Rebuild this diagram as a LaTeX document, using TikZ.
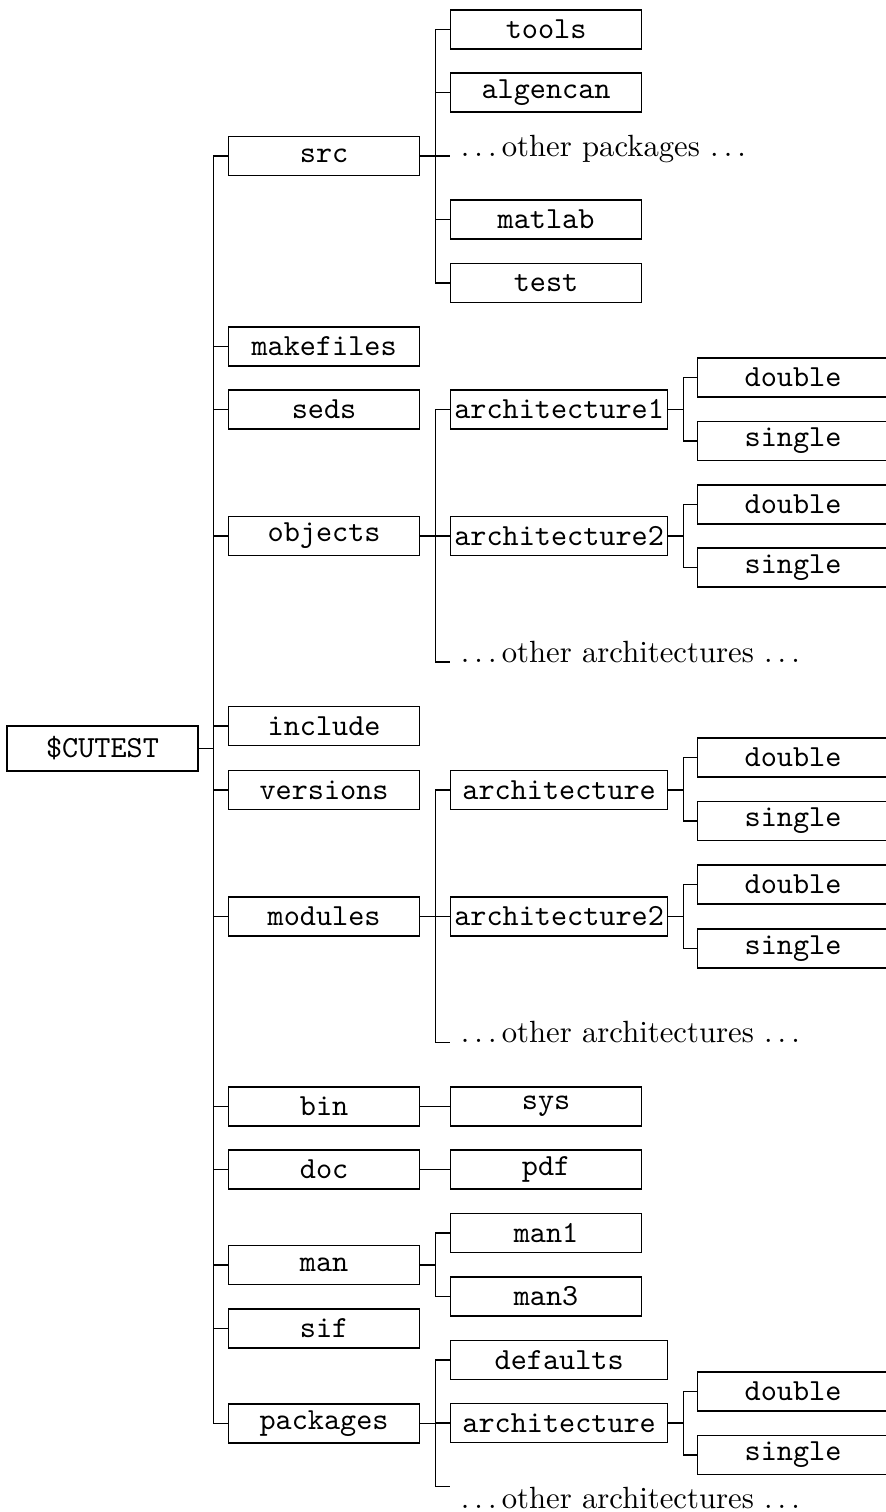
\documentclass[tikz,border=0pt]{standalone}
\newcommand\etcdots{.\kern1.67pt.\kern1.67pt.\kern1.67pt}
\tikzset{
  dirnode/.style = {shape=rectangle, draw, font=\ttfamily,
                    minimum width=62.2pt, minimum height=12.7pt,
                    inner sep=1.2pt},
  rootdir/.style = {dirnode, minimum height=14.7pt},
  widedir/.style = {dirnode, minimum width=70.7pt},
  etcnode/.style = {inner xsep=3.33pt, inner ysep=0pt},
  branch/.style  = {to path={-- ++(15,0) |- (\tikztotarget)}}
}
\begin{document}
\begin{tikzpicture}[x=0.3257pt, y=-0.3257pt]
  \useasboundingbox (0,0) rectangle (885,1512);

  \node [rootdir] (cutest) at (102.5,748.5) {\$CUTEST};

  \node [dirnode, anchor=west] (src)       at (228,156)    {src};
  \node [dirnode, anchor=west] (makefiles) at (228,346.5)  {makefiles};
  \node [dirnode, anchor=west] (seds)      at (228,409.5)  {seds};
  \node [dirnode, anchor=west] (objects)   at (228,536)    {objects};
  \node [dirnode, anchor=west] (include)   at (228,726)    {include};
  \node [dirnode, anchor=west] (versions)  at (228,790)    {versions};
  \node [dirnode, anchor=west] (modules)   at (228,916.5)  {modules};
  \node [dirnode, anchor=west] (bin)       at (228,1106.5) {bin};
  \node [dirnode, anchor=west] (doc)       at (228,1169.5) {doc};
  \node [dirnode, anchor=west] (man)       at (228,1265)   {man};
  \node [dirnode, anchor=west] (sif)       at (228,1328.5) {sif};
  \node [dirnode, anchor=west] (packages)  at (228,1423.5) {packages};

  \node [dirnode, anchor=west] (tools)    at (450,29.5)  {tools};
  \node [dirnode, anchor=west] (algencan) at (450,92.5)  {algencan};
  \node [etcnode, anchor=base west] (srcetc) at (450,156) {\etcdots other packages \etcdots};
  \node [dirnode, anchor=west] (matlab)   at (450,219.5) {matlab};
  \node [dirnode, anchor=west] (test)     at (450,283)   {test};

  \node [widedir, anchor=west] (objarchA) at (450,409.5) {architecture1};
  \node [widedir, anchor=west] (objarchB) at (450,536)   {architecture2};
  \node [etcnode, anchor=base west] (objetc) at (450,662) {\etcdots other architectures \etcdots};

  \node [widedir, anchor=west] (verarch) at (450,790)   {architecture};
  \node [widedir, anchor=west] (modarch) at (450,916.5) {architecture2};
  \node [etcnode, anchor=base west] (modetc) at (450,1042.5) {\etcdots other architectures \etcdots};

  \node [dirnode, anchor=west] (sys)  at (450,1106.5) {sys};
  \node [dirnode, anchor=west] (pdf)  at (450,1169.5) {pdf};
  \node [dirnode, anchor=west] (manA) at (450,1233)   {man1};
  \node [dirnode, anchor=west] (manB) at (450,1296.5) {man3};

  \node [widedir, anchor=west] (defaults) at (450,1360) {defaults};
  \node [widedir, anchor=west] (pkgarch)  at (450,1423) {architecture};
  \node [etcnode, anchor=north west] (pkgetc) at (450,1486.5) {\etcdots other architectures \etcdots};

  \node [dirnode, anchor=west] (objAdbl) at (697,377.5)  {double};
  \node [dirnode, anchor=west] (objAsgl) at (697,441)    {single};
  \node [dirnode, anchor=west] (objBdbl) at (697,504.5)  {double};
  \node [dirnode, anchor=west] (objBsgl) at (697,567.5)  {single};
  \node [dirnode, anchor=west] (verdbl)  at (697,757.5)  {double};
  \node [dirnode, anchor=west] (versgl)  at (697,821)    {single};
  \node [dirnode, anchor=west] (moddbl)  at (697,884.5)  {double};
  \node [dirnode, anchor=west] (modsgl)  at (697,948.5)  {single};
  \node [dirnode, anchor=west] (pkgdbl)  at (697,1391.5) {double};
  \node [dirnode, anchor=west] (pkgsgl)  at (697,1455)   {single};

  \draw (cutest.east) edge[branch] (src.west) edge[branch] (makefiles.west)
        edge[branch] (seds.west) edge[branch] (objects.west)
        edge[branch] (include.west) edge[branch] (versions.west)
        edge[branch] (modules.west) edge[branch] (bin.west)
        edge[branch] (doc.west) edge[branch] (man.west)
        edge[branch] (sif.west) edge[branch] (packages.west);
  \draw (src.east) edge[branch] (tools.west) edge[branch] (algencan.west)
        edge[branch] (srcetc.base west) edge[branch] (matlab.west)
        edge[branch] (test.west);
  \draw (objects.east) edge[branch] (objarchA.west) edge[branch] (objarchB.west)
        edge[branch] (objetc.base west);
  \draw (modules.east) edge[branch] (verarch.west) edge[branch] (modarch.west)
        edge[branch] (modetc.base west);
  \draw (bin.east) edge[branch] (sys.west);
  \draw (doc.east) edge[branch] (pdf.west);
  \draw (man.east) edge[branch] (manA.west) edge[branch] (manB.west);
  \draw (packages.east) edge[branch] (defaults.west) edge[branch] (pkgarch.west)
        edge[branch] (pkgetc.north west);
  \draw (objarchA.east) edge[branch] (objAdbl.west) edge[branch] (objAsgl.west);
  \draw (objarchB.east) edge[branch] (objBdbl.west) edge[branch] (objBsgl.west);
  \draw (verarch.east) edge[branch] (verdbl.west) edge[branch] (versgl.west);
  \draw (modarch.east) edge[branch] (moddbl.west) edge[branch] (modsgl.west);
  \draw (pkgarch.east) edge[branch] (pkgdbl.west) edge[branch] (pkgsgl.west);
\end{tikzpicture}
\end{document}
